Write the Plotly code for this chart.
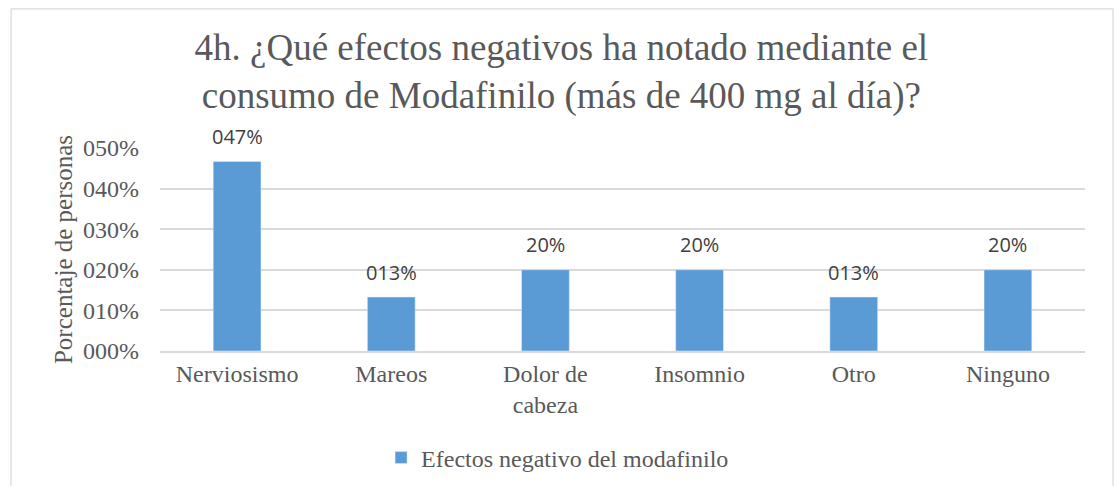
import plotly.graph_objects as go

categories = ["Nerviosismo", "Mareos", "Dolor de<br>cabeza", "Insomnio", "Otro", "Ninguno"]
values = [0.467, 0.133, 0.20, 0.20, 0.133, 0.20]
value_labels = ["047%", "013%", "20%", "20%", "013%", "20%"]
tick_vals = [0, 0.1, 0.2, 0.3, 0.4, 0.5]
tick_text = ["000%", "010%", "020%", "030%", "040%", "050%"]
series_name = "Efectos negativo del modafinilo"

serif = "Liberation Serif"
sans = "Open Sans"
grey = "#595959"

fig = go.Figure()
fig.add_trace(go.Bar(
    x=categories, y=values, name=series_name,
    marker=dict(color="#5b9bd5"), width=0.31,
))

for c, v, t in zip(categories, values, value_labels):
    fig.add_annotation(x=c, y=v, text=t, showarrow=False, yanchor="middle",
                       yshift=25, font=dict(family=sans, size=20, color="#404040"))

fig.add_shape(type="rect", xref="paper", yref="paper",
              x0=-0.161, x1=1.0303, y0=-0.7, y1=1.685,
              line=dict(color="#d9d9d9", width=1.2), fillcolor="rgba(0,0,0,0)", layer="below")

fig.update_layout(
    width=1116, height=486,
    margin=dict(l=160, r=31, t=148, b=135, autoexpand=False),
    paper_bgcolor="white", plot_bgcolor="white",
    title=dict(text="4h. ¿Qué efectos negativos ha notado mediante el<br>consumo de Modafinilo (más de 400 mg al día)?",
               x=0.503, xanchor="center", y=1 - 60 / 486, yanchor="middle",
               font=dict(family=serif, size=37, color=grey)),
    showlegend=True,
    legend=dict(orientation="h", x=0.239, xanchor="left", y=-0.527, yanchor="middle",
                font=dict(family=serif, size=24, color=grey), itemwidth=30),
    bargap=0.69,
)
fig.update_xaxes(showgrid=False, showline=True, linecolor="#d9d9d9", linewidth=1.5,
                 tickfont=dict(family=serif, size=24, color=grey), ticks="", automargin=False)
fig.update_yaxes(range=[0, 0.5], tickvals=tick_vals, ticktext=tick_text,
                 showgrid=True, gridcolor="#d9d9d9", gridwidth=1.5, zeroline=False,
                 tickfont=dict(family=serif, size=24, color=grey), ticks="", ticklabelstandoff=20,
                 automargin=False,
                 title=dict(text="Porcentaje de personas", font=dict(family=serif, size=25, color=grey), standoff=3))

fig.write_html("out.html", config={"displayModeBar": False},
               post_script="document.body.style.margin='0';")
